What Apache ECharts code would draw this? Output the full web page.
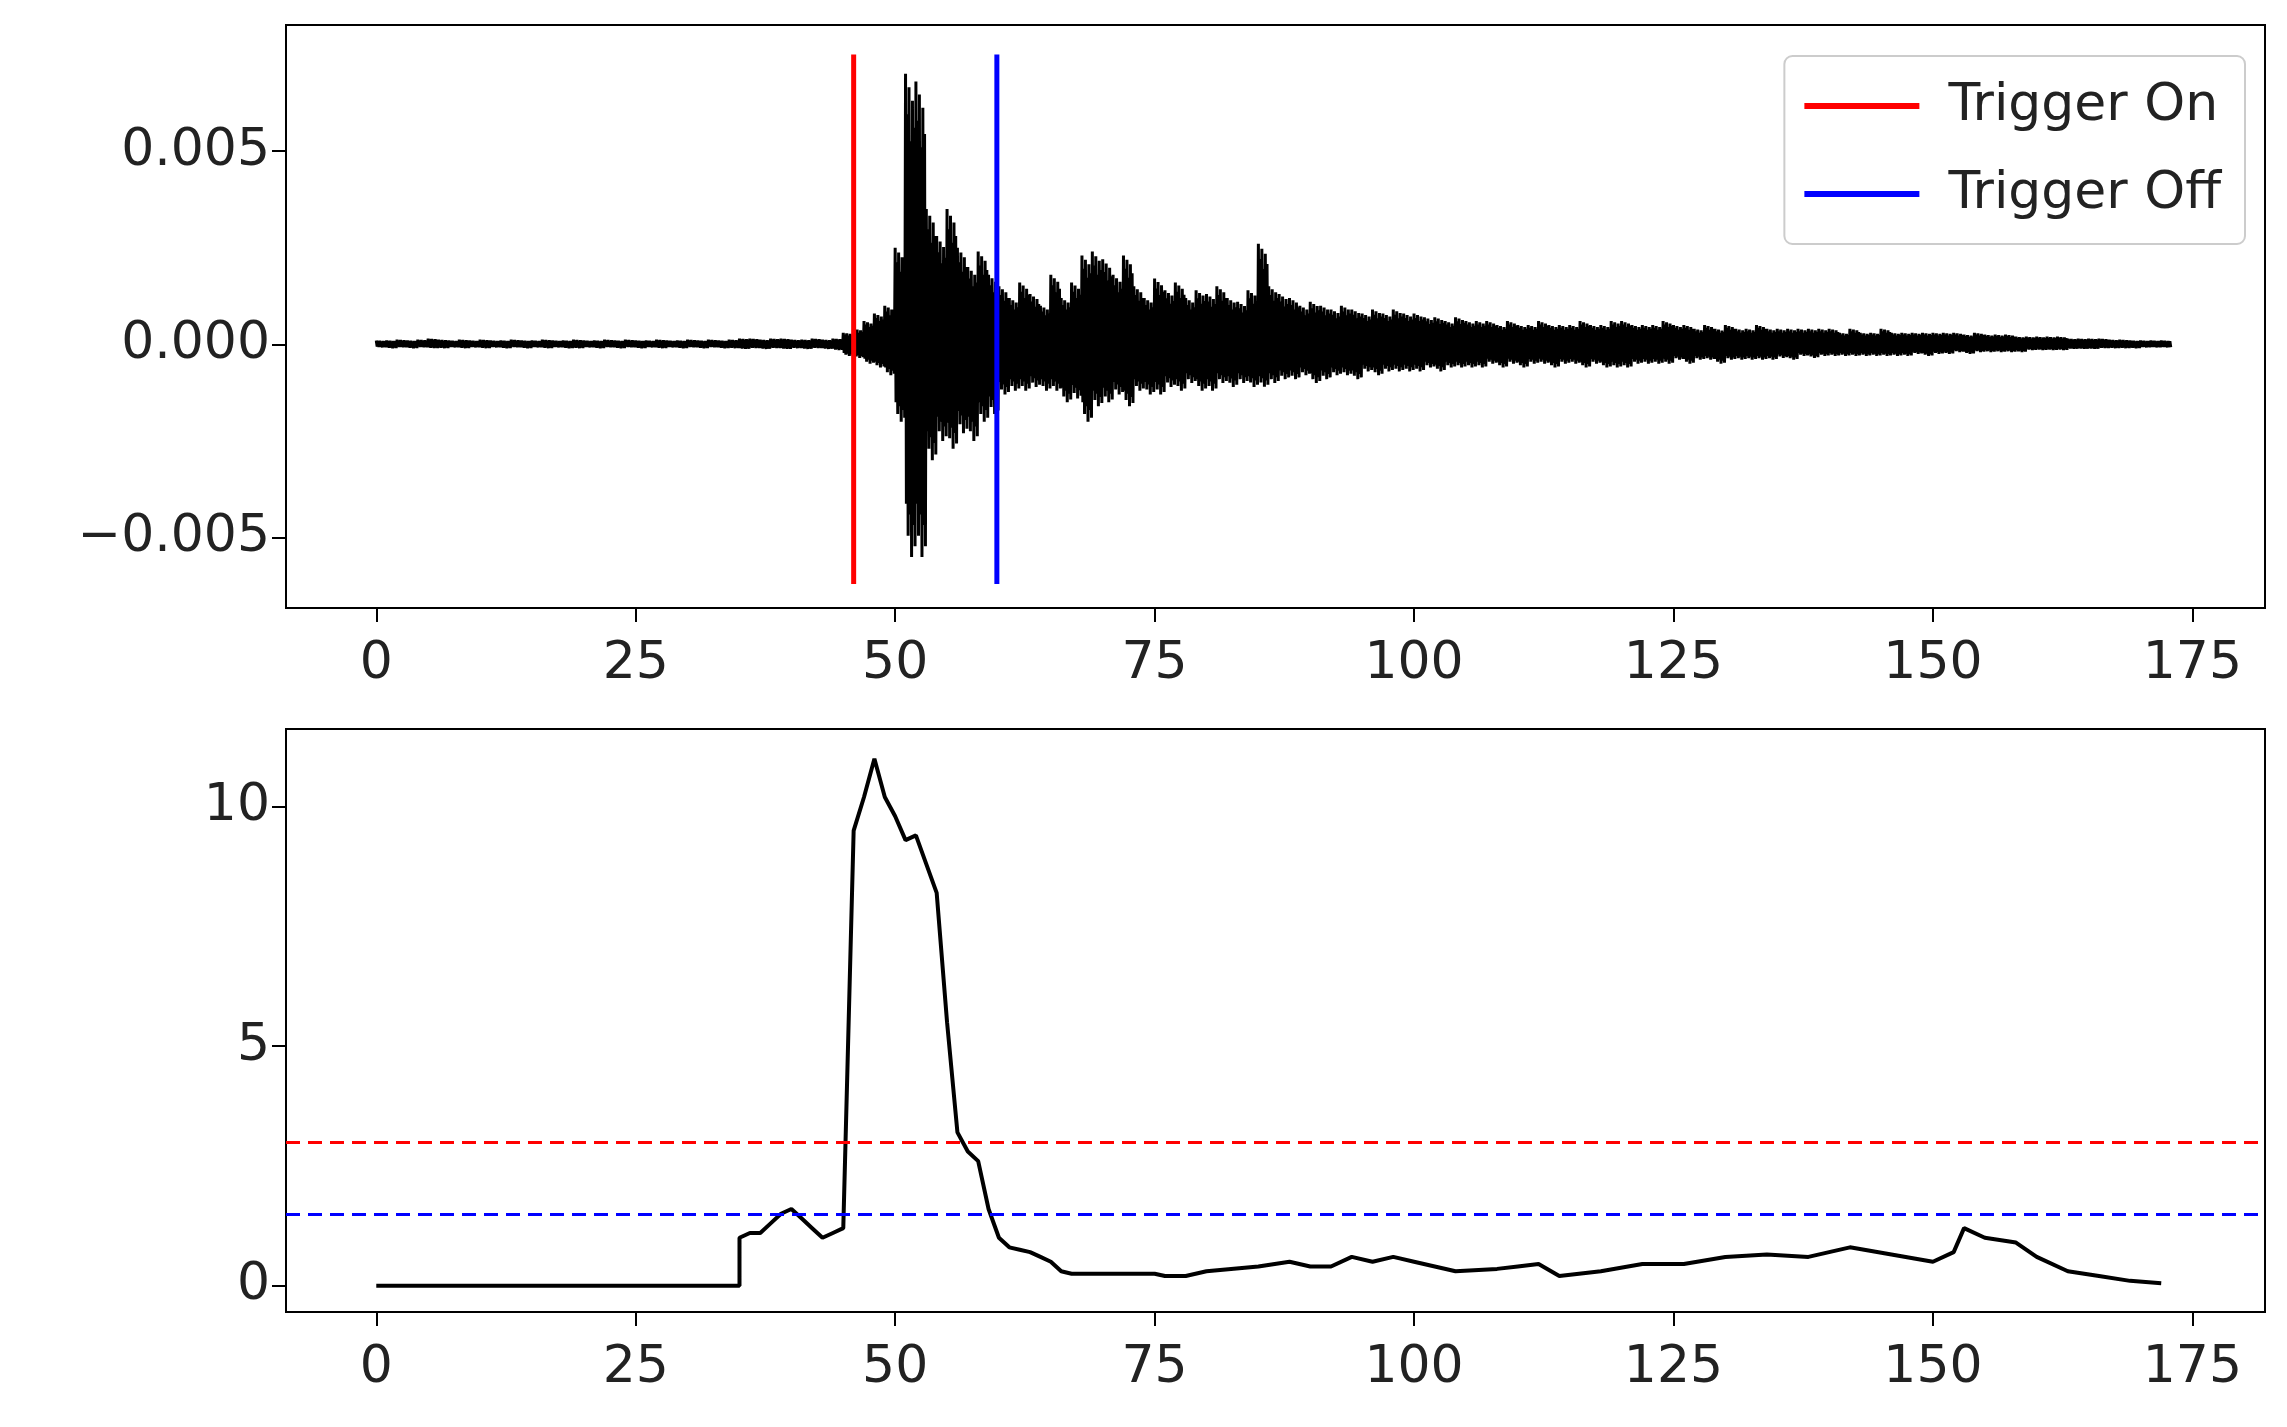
<!DOCTYPE html>
<html><head><meta charset="utf-8">
<script src="https://cdn.jsdelivr.net/npm/echarts@6/dist/echarts.min.js"></script>
<style>html,body{margin:0;padding:0;background:#fff}#c{width:2287px;height:1427px}</style>
</head><body><div id="c"></div>
<script>
// Seismogram envelope (units of 1e-3), one value per second t = 0..172
const envTop = [0.1,0.1,0.12,0.1,0.12,0.15,0.12,0.1,0.12,0.1,0.12,0.1,0.1,0.12,0.1,0.1,0.12,0.1,0.1,0.12,
0.1,0.1,0.12,0.1,0.12,0.1,0.1,0.12,0.1,0.1,0.12,0.1,0.12,0.1,0.12,0.15,0.15,0.12,0.15,0.15,
0.12,0.12,0.15,0.12,0.15,0.3,0.4,0.6,0.8,1.0,2.5,7.0,6.8,3.5,2.8,3.5,2.5,2.0,2.4,1.8,
1.5,1.2,1.6,1.3,1.0,1.8,1.2,1.6,2.3,2.4,2.2,1.8,2.3,1.5,1.2,1.7,1.4,1.6,1.2,1.4,
1.3,1.5,1.2,1.1,1.4,2.6,1.5,1.3,1.2,1.0,1.1,1.0,0.9,1.0,0.9,0.8,0.9,0.8,0.9,0.8,
0.8,0.7,0.7,0.6,0.7,0.6,0.6,0.6,0.5,0.6,0.5,0.5,0.6,0.5,0.5,0.5,0.6,0.5,0.5,0.6,
0.6,0.5,0.5,0.5,0.6,0.5,0.5,0.4,0.5,0.4,0.5,0.4,0.4,0.5,0.4,0.4,0.4,0.4,0.4,0.4,
0.4,0.3,0.4,0.3,0.3,0.4,0.3,0.3,0.3,0.3,0.3,0.3,0.3,0.25,0.3,0.25,0.25,0.25,0.2,0.2,
0.2,0.2,0.2,0.15,0.15,0.15,0.15,0.12,0.12,0.1,0.1,0.1,0.1];
const envBot = [-0.08,-0.1,-0.08,-0.1,-0.08,-0.1,-0.1,-0.08,-0.1,-0.08,-0.1,-0.08,-0.1,-0.08,-0.1,-0.08,-0.1,-0.08,-0.1,-0.1,
-0.08,-0.1,-0.08,-0.1,-0.08,-0.1,-0.08,-0.1,-0.08,-0.1,-0.08,-0.1,-0.08,-0.1,-0.1,-0.12,-0.1,-0.12,-0.1,-0.12,
-0.1,-0.12,-0.1,-0.12,-0.15,-0.3,-0.35,-0.5,-0.6,-0.8,-2.0,-5.5,-5.5,-3.0,-2.5,-2.7,-2.3,-2.5,-2.0,-1.8,
-1.3,-1.2,-1.2,-1.1,-1.2,-1.2,-1.5,-1.4,-2.0,-1.6,-1.5,-1.3,-1.6,-1.2,-1.3,-1.3,-1.1,-1.2,-1.0,-1.2,
-1.2,-1.0,-1.1,-1.0,-1.1,-1.1,-1.0,-0.9,-0.9,-0.8,-1.0,-0.9,-0.8,-0.8,-0.9,-0.7,-0.8,-0.7,-0.7,-0.7,
-0.7,-0.6,-0.7,-0.6,-0.6,-0.6,-0.6,-0.5,-0.6,-0.5,-0.6,-0.5,-0.5,-0.6,-0.5,-0.5,-0.6,-0.5,-0.6,-0.6,
-0.6,-0.5,-0.5,-0.5,-0.5,-0.4,-0.5,-0.4,-0.4,-0.5,-0.4,-0.4,-0.4,-0.4,-0.4,-0.35,-0.4,-0.3,-0.35,-0.3,
-0.3,-0.3,-0.3,-0.3,-0.3,-0.3,-0.3,-0.3,-0.25,-0.3,-0.25,-0.25,-0.2,-0.25,-0.2,-0.2,-0.2,-0.2,-0.2,-0.15,
-0.15,-0.15,-0.15,-0.12,-0.12,-0.12,-0.1,-0.1,-0.1,-0.1,-0.08,-0.08,-0.08];
// STA/LTA characteristic function
const cfTimes  = [0,35,35,36,37,38,39,40,41,42,43,44,45,46,47,48,49,50,51,52,53,54,55,56,57,58,59,60,61,62,63,64,65,66,67,70,75,76,78,80,85,88,90,92,94,96,98,100,104,108,110,112,114,118,122,126,130,134,138,142,146,150,152,153,155,158,160,163,166,169,172];
const cfValues = [0,0,1.0,1.1,1.1,1.3,1.5,1.6,1.4,1.2,1.0,1.1,1.2,9.5,10.2,11.0,10.2,9.8,9.3,9.4,8.8,8.2,5.5,3.2,2.8,2.6,1.6,1.0,0.8,0.75,0.7,0.6,0.5,0.3,0.25,0.25,0.25,0.2,0.2,0.3,0.4,0.5,0.4,0.4,0.6,0.5,0.6,0.5,0.3,0.35,0.4,0.45,0.2,0.3,0.45,0.45,0.6,0.65,0.6,0.8,0.65,0.5,0.7,1.2,1.0,0.9,0.6,0.3,0.2,0.1,0.05];
const triggerOn = 46.0, triggerOff = 59.8;
const thrOn = 3.0, thrOff = 1.5;
const xTicks = [0,25,50,75,100,125,150,175];
const yTicksTop = [-0.005,0,0.005];
const yTicksBot = [0,5,10];

const fac = [1,0.85,0.95,0.75,0.9,0.8];
const sig = [];
for (let i = 0; i < envTop.length; i++) {
  for (let k = 0; k < 6; k++) {
    sig.push([i + k/6, envTop[i]*fac[k]*1e-3]);
    sig.push([i + k/6 + 1/12, envBot[i]*fac[(k+3)%6]*1e-3]);
  }
}
const cf = cfTimes.map((t,i)=>[t,cfValues[i]]);
const F = 'DejaVu Sans';
const lab = {fontSize:52, fontFamily:F, color:'#222', margin:16};
function xa(gi){return {type:'value',gridIndex:gi,min:-8.7,max:182,splitLine:{show:false},
  axisLine:{show:true,onZero:false,lineStyle:{color:'#000',width:2}},
  axisTick:{show:true,length:14,lineStyle:{color:'#000',width:2},customValues:xTicks},
  axisLabel:Object.assign({customValues:xTicks,formatter:v=>String(v)},lab,{margin:30})};}
function ya(gi,min,max,ticks,fmt){return {type:'value',gridIndex:gi,min:min,max:max,splitLine:{show:false},
  axisLine:{show:true,onZero:false,lineStyle:{color:'#000',width:2}},
  axisTick:{show:true,length:14,lineStyle:{color:'#000',width:2},customValues:ticks},
  axisLabel:Object.assign({customValues:ticks,formatter:fmt},lab)};}
const chart = echarts.init(document.getElementById('c'));
chart.setOption({
  animation:false,
  grid:[{left:286,right:22,top:25,height:583,show:true,borderColor:'#000',borderWidth:2},
        {left:286,right:22,top:729,height:583,show:true,borderColor:'#000',borderWidth:2}],
  xAxis:[xa(0),xa(1)],
  yAxis:[ya(0,-0.00682,0.00826,yTicksTop,v=>Math.abs(v)<1e-9?'0.000':(v<0?'\u2212':'')+Math.abs(v).toFixed(3)),
         ya(1,-0.55,11.62,yTicksBot,v=>String(v))],
  legend:{right:42,top:56,orient:'vertical',itemWidth:115,itemHeight:6,itemGap:36,
    backgroundColor:'#fff',borderColor:'#ccc',borderWidth:2,borderRadius:8,padding:[24,24,24,20],
    textStyle:{fontSize:52,fontFamily:F,color:'#222',padding:[0,0,0,24]},
    data:[{name:'Trigger On',icon:'rect'},{name:'Trigger Off',icon:'rect'}]},
  series:[
    {type:'line',xAxisIndex:0,yAxisIndex:0,data:sig,showSymbol:false,lineStyle:{color:'#000',width:3},z:2},
    {name:'Trigger On',type:'line',xAxisIndex:0,yAxisIndex:0,data:[[triggerOn,-0.0062],[triggerOn,0.0075]],showSymbol:false,itemStyle:{color:'#ff0000'},lineStyle:{color:'#ff0000',width:5},z:3},
    {name:'Trigger Off',type:'line',xAxisIndex:0,yAxisIndex:0,data:[[triggerOff,-0.0062],[triggerOff,0.0075]],showSymbol:false,itemStyle:{color:'#0000ff'},lineStyle:{color:'#0000ff',width:5},z:3},
    {type:'line',xAxisIndex:1,yAxisIndex:1,data:cf,showSymbol:false,lineStyle:{color:'#000',width:4},z:3,
      markLine:{silent:true,symbol:'none',label:{show:false},
        data:[{yAxis:thrOn,lineStyle:{color:'#ff0000',type:[14,8],width:3}},
              {yAxis:thrOff,lineStyle:{color:'#0000ff',type:[14,8],width:3}}]}}
  ]
});
</script></body></html>
